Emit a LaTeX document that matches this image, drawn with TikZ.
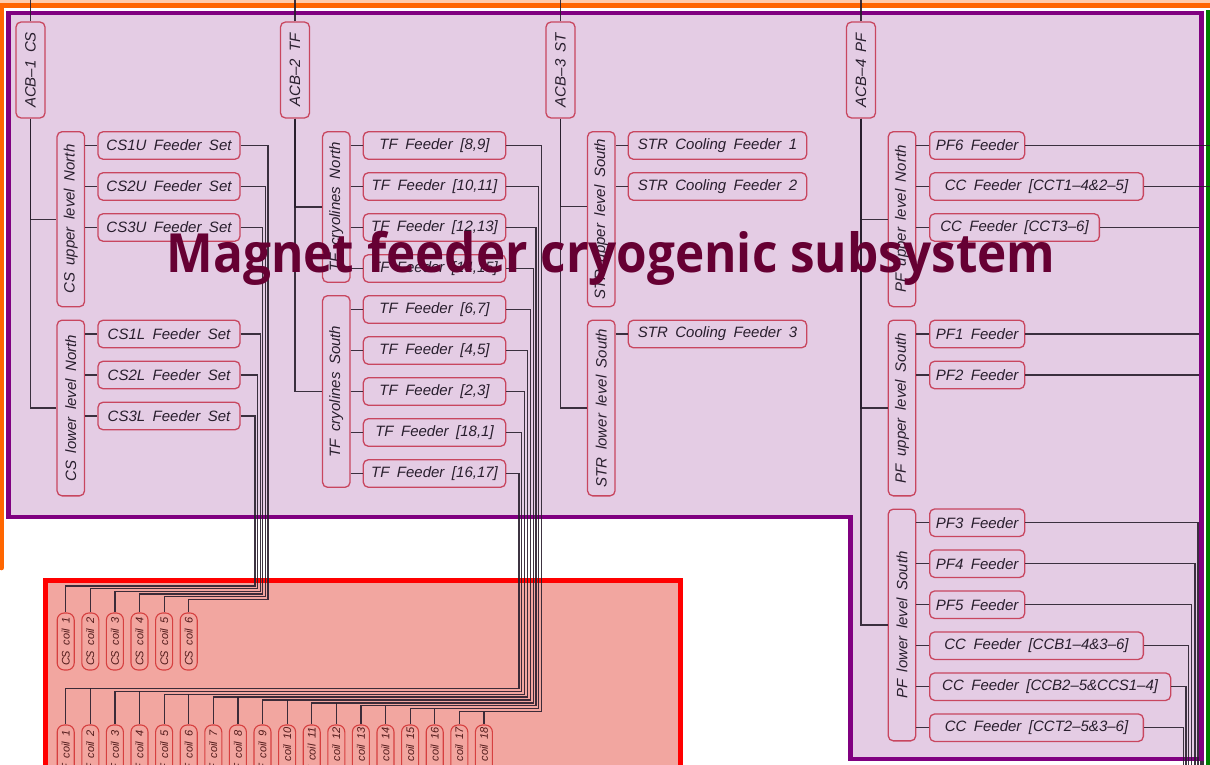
\documentclass[tikz,border=0pt]{standalone}
\usepackage{fontspec}
\setmainfont{Liberation Sans}
\newfontfamily\cadfont[WordSpace=1.8]{Liberation Sans}
\newfontfamily\titlefont{Open Sans}
\usetikzlibrary{calc}
\definecolor{peach}{RGB}{255,204,170}
\definecolor{orangeline}{RGB}{255,102,0}
\definecolor{purpleline}{RGB}{128,0,128}
\definecolor{lav}{RGB}{228,204,228}
\definecolor{redline}{RGB}{255,0,0}
\definecolor{salmon}{RGB}{242,166,160}
\definecolor{greenline}{RGB}{0,128,0}
\definecolor{titlecol}{RGB}{102,0,51}
\definecolor{nodeborder}{RGB}{200,70,95}
\definecolor{nodetext}{RGB}{40,30,45}
\definecolor{coilborder}{RGB}{214,64,64}
\definecolor{coiltext}{RGB}{80,25,25}
\definecolor{wirecol}{RGB}{40,30,45}
\tikzset{
  feeder/.style={draw=nodeborder, fill=lav, rounded corners=5pt, line width=1.3pt,
    minimum height=27.5pt, inner sep=0pt, text=nodetext,
    font=\cadfont\itshape\fontsize{15}{18}\selectfont},
  grp/.style={feeder, rotate=90, minimum height=27.5pt},
  acbbox/.style={feeder, rotate=90, minimum width=96pt, minimum height=29pt},
  coil/.style={draw=coilborder, fill=salmon, rounded corners=7pt, line width=1.1pt,
    rotate=90, minimum width=57pt, minimum height=17pt, inner sep=0pt, text=coiltext,
    font=\cadfont\itshape\fontsize{11}{12}\selectfont},
  wire/.style={draw=wirecol, line width=1.2pt, opacity=0.9},
}
\begin{document}
\begin{tikzpicture}[x=1pt,y=-1pt]
\useasboundingbox (0,0) rectangle (1210,765);
% background frames
\fill[white] (0,0) rectangle (1210,765);
\fill[peach] (0,0) rectangle (1210,4);
\draw[orangeline, line width=5pt] (0,6) -- (1212,6);
\draw[orangeline, line width=4.5pt, line cap=round] (1.5,6) -- (1.5,568);
\fill[greenline] (1206,10) rectangle (1210,770);
\filldraw[draw=redline, fill=salmon, line width=5pt] (45.5,580.5) rectangle (680.5,800);
\fill[lav] (8.5,13) -- (1201.5,13) -- (1201.5,759) -- (850.5,759) -- (850.5,517) -- (8.5,517) -- cycle;

% ACB nodes
\node[acbbox] (acb1) at (30.5,70) {ACB–1 CS};
\node[acbbox] (acb2) at (295,70) {ACB–2 TF};
\node[acbbox] (acb3) at (560.5,70) {ACB–3 ST};
\node[acbbox] (acb4) at (861,70) {ACB–4 PF};

% group nodes
\node[grp, minimum width=175pt] (csun) at (70.8,219.2) {CS upper level North};
\node[grp, minimum width=175.7pt] (csln) at (70.8,408) {CS lower level North};
\node[grp, minimum width=150.6pt] (tfn) at (336.3,207) {TF cryolines North};
\node[grp, minimum width=191.6pt] (tfs) at (336.3,391.5) {TF cryolines South};
\node[grp, minimum width=175pt] (strus) at (601.3,219.2) {STR upper level South};
\node[grp, minimum width=175.7pt] (strls) at (601.3,408) {STR lower level South};
\node[grp, minimum width=175pt] (pfun) at (902,219.2) {PF upper level North};
\node[grp, minimum width=175.7pt] (pfus) at (902,408) {PF upper level South};
\node[grp, minimum width=231.7pt] (pfls) at (902,625) {PF lower level South};

% feeder nodes CS
\node[feeder, minimum width=142pt] (cs1u) at (169,145.5) {CS1U Feeder Set};
\node[feeder, minimum width=142pt] (cs2u) at (169,186.5) {CS2U Feeder Set};
\node[feeder, minimum width=142pt] (cs3u) at (169,227.5) {CS3U Feeder Set};
\node[feeder, minimum width=142pt] (cs1l) at (169,334) {CS1L Feeder Set};
\node[feeder, minimum width=142pt] (cs2l) at (169,375) {CS2L Feeder Set};
\node[feeder, minimum width=142pt] (cs3l) at (169,416) {CS3L Feeder Set};
% TF
\node[feeder, minimum width=142.4pt] (tf89) at (434.5,145.5) {TF Feeder [8,9]};
\node[feeder, minimum width=142.4pt] (tf1011) at (434.5,186.5) {TF Feeder [10,11]};
\node[feeder, minimum width=142.4pt] (tf1213) at (434.5,227.5) {TF Feeder [12,13]};
\node[feeder, minimum width=142.4pt] (tf1415) at (434.5,268.5) {TF Feeder [14,15]};
\node[feeder, minimum width=142.4pt] (tf67) at (434.5,309.5) {TF Feeder [6,7]};
\node[feeder, minimum width=142.4pt] (tf45) at (434.5,350.5) {TF Feeder [4,5]};
\node[feeder, minimum width=142.4pt] (tf23) at (434.5,391.5) {TF Feeder [2,3]};
\node[feeder, minimum width=142.4pt] (tf181) at (434.5,432.5) {TF Feeder [18,1]};
\node[feeder, minimum width=142.4pt] (tf1617) at (434.5,473.5) {TF Feeder [16,17]};
% STR
\node[feeder, minimum width=178.4pt] (str1) at (717.5,145.5) {STR Cooling Feeder 1};
\node[feeder, minimum width=178.4pt] (str2) at (717.5,186.5) {STR Cooling Feeder 2};
\node[feeder, minimum width=178.4pt] (str3) at (717.5,334) {STR Cooling Feeder 3};
% PF
\node[feeder, anchor=west, minimum width=95pt] (pf6) at (929,145.5) {PF6 Feeder};
\node[feeder, anchor=west, minimum width=213.7pt] (cct14) at (929,186.5) {CC Feeder [CCT1–4\&2–5]};
\node[feeder, anchor=west, minimum width=169.7pt] (cct36) at (929,227.5) {CC Feeder [CCT3–6]};
\node[feeder, anchor=west, minimum width=95pt] (pf1) at (929,334) {PF1 Feeder};
\node[feeder, anchor=west, minimum width=95pt] (pf2) at (929,375) {PF2 Feeder};
\node[feeder, anchor=west, minimum width=95pt] (pf3) at (929,522.7) {PF3 Feeder};
\node[feeder, anchor=west, minimum width=95pt] (pf4) at (929,563.7) {PF4 Feeder};
\node[feeder, anchor=west, minimum width=95pt] (pf5) at (929,604.7) {PF5 Feeder};
\node[feeder, anchor=west, minimum width=213.7pt] (ccb14) at (929,645.7) {CC Feeder [CCB1–4\&3–6]};
\node[feeder, anchor=west, minimum width=241pt] (ccb25) at (929,686.7) {CC Feeder [CCB2–5\&CCS1–4]};
\node[feeder, anchor=west, minimum width=213.7pt] (cct25) at (929,727.7) {CC Feeder [CCT2–5\&3–6]};

% coils
\foreach \i in {1,...,6}
  \node[coil] (csc\i) at ({65.7+24.6*(\i-1)},641.5) {CS coil \i};
\foreach \i in {1,...,18}
  \node[coil] (tfc\i) at ({65.7+24.6*(\i-1)},753.5) {TF coil \i};

% wires hidden under the purple frame (drawn before the frame)
\draw[wire] (pf2.east) -| (1200.5,770);
\draw[wire] (pf1.east) -| (1201.8,770);
\draw[wire] (cct36.east) -| (1203,770);
\draw[purpleline, line width=4.5pt] (8.5,13) -- (1201.5,13) -- (1201.5,759) -- (850.5,759) -- (850.5,517) -- (8.5,517) -- cycle;

% ACB up-lines and tree connectors
\foreach \a in {acb1,acb2,acb3,acb4}
  \draw[wire] (\a.east) -- ++(0,-30);
\draw[wire] (acb1) |- (csun);
\draw[wire] (acb1) |- (csln);
\draw[wire] (acb2) |- (tfn);
\draw[wire] (acb2) |- (tfs);
\draw[wire] (acb3) |- ([yshift=12.5pt]strus.north);
\draw[wire] (acb3) |- (strls);
\draw[wire] (acb4) |- (pfun);
\draw[wire] (acb4) |- (pfus);
\draw[wire] (acb4) |- (pfls);

\foreach \f in {cs1u,cs2u,cs3u} \draw[wire] (csun.south |- \f) -- (\f);
\foreach \f in {cs1l,cs2l,cs3l} \draw[wire] (csln.south |- \f) -- (\f);
\foreach \f in {tf89,tf1011,tf1213,tf1415} \draw[wire] (tfn.south |- \f) -- (\f);
\foreach \f in {tf67,tf45,tf23,tf181,tf1617} \draw[wire] (tfs.south |- \f) -- (\f);
\foreach \f in {str1,str2} \draw[wire] (strus.south |- \f) -- (\f);
\draw[wire] (strls.south |- str3) -- (str3);
\foreach \f in {pf6,cct14,cct36} \draw[wire] (pfun.south |- \f) -- (\f);
\foreach \f in {pf1,pf2} \draw[wire] (pfus.south |- \f) -- (\f);
\foreach \f in {pf3,pf4,pf5,ccb14,ccb25,cct25} \draw[wire] (pfls.south |- \f) -- (\f);

% CS bus
\foreach \f [count=\k] in {cs3l,cs2l,cs1l,cs3u,cs2u,cs1u}
  \draw[wire] (\f.east) -| ({255+2.6*(\k-1)},{586+2.65*(\k-1)}) -| (csc\k.east);

% TF bus
\foreach \f [count=\k] in {tf1617,tf181,tf23,tf45,tf67,tf1415,tf1213,tf1011,tf89} {
  \pgfmathtruncatemacro{\ca}{2*\k-1}
  \pgfmathtruncatemacro{\cb}{2*\k}
  \coordinate (tb\k) at ({518.9+2.85*(\k-1)},{688.3+2.93*(\k-1)});
  \draw[wire] (\f.east) -| (tb\k) -| (tfc\ca.east);
  \draw[wire] (tfc\cb.east |- tb\k) -- (tfc\cb.east);
}

% PF bus on the right
\draw[wire] (pf6.east) -- ++(300,0);
\draw[wire] (cct14.east) -- ++(300,0);
\draw[wire] (pf3.east) -| (1198,770);
\draw[wire] (pf4.east) -| (1195,770);
\draw[wire] (pf5.east) -| (1191.7,770);
\draw[wire] (ccb14.east) -| (1188.6,770);
\draw[wire] (ccb25.east) -| (1186,770);
\draw[wire] (cct25.east) -| (1183.3,770);

% title
\begin{scope}[shift={(611,272)}]
\node[font=\titlefont\bfseries\fontsize{54}{60}\selectfont, text=titlecol, anchor=base,
  inner sep=0pt, xscale=0.916, transform shape] (title) at (0,0) {Magnet feeder cryogenic subsystem};
\end{scope}
\end{tikzpicture}
\end{document}
